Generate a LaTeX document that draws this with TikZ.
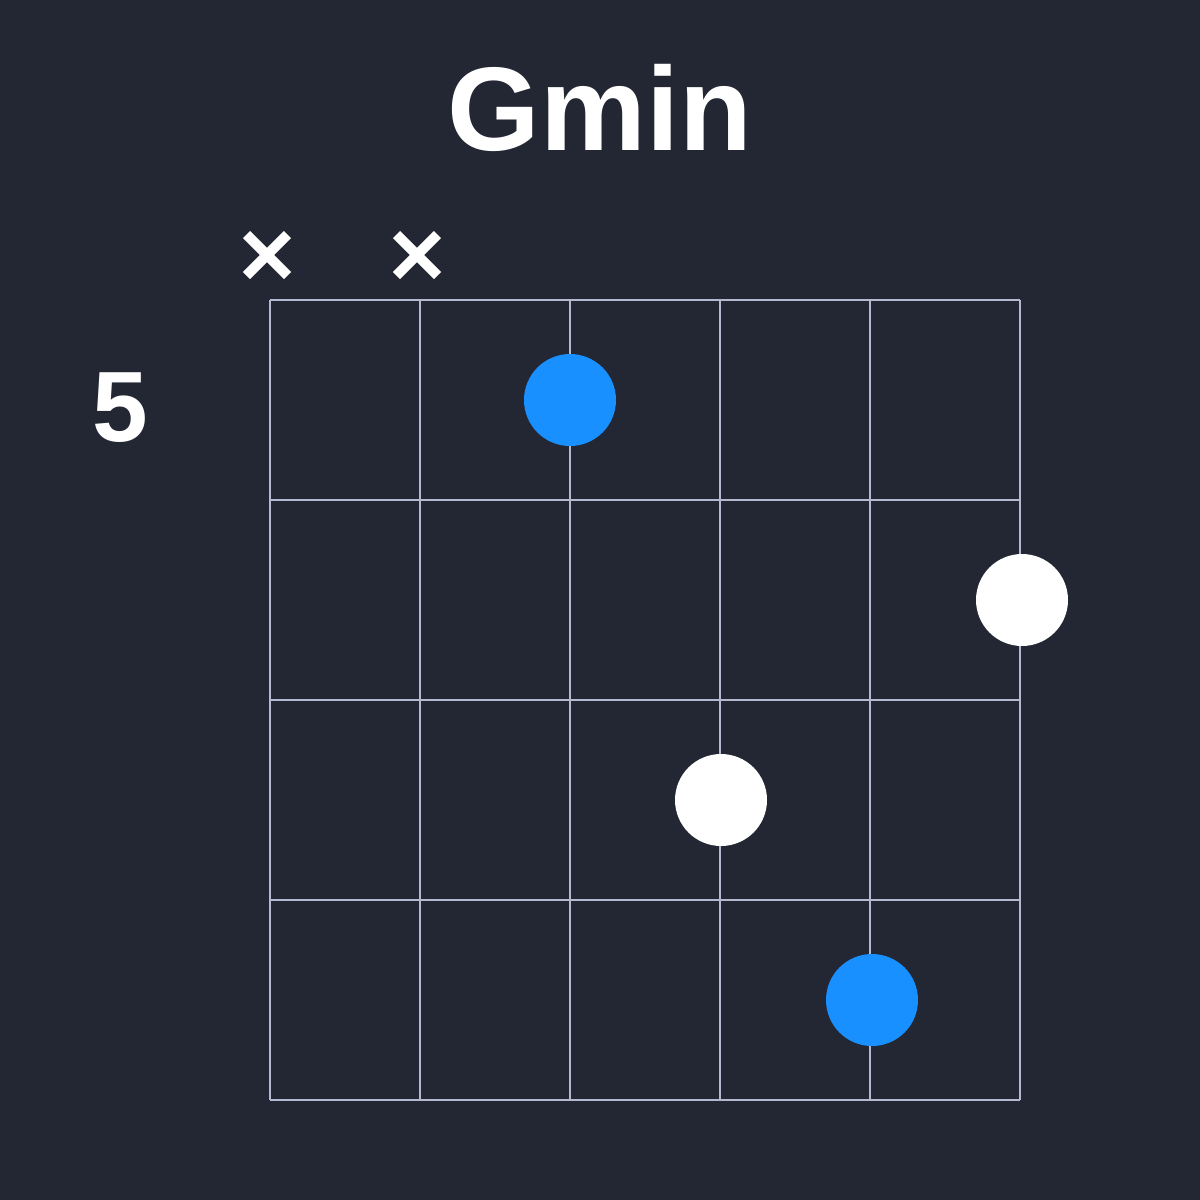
\documentclass[tikz,border=0pt]{standalone}
\usepackage{fontspec}
\setmainfont{Liberation Sans}
\definecolor{bg}{HTML}{232733}
\definecolor{gridc}{HTML}{B4B9D2}
\definecolor{blued}{HTML}{1890FF}
\begin{document}
\begin{tikzpicture}[x=1pt,y=-1pt,
  gridline/.style={draw=gridc,line width=1.8pt},
  bluedot/.style={circle,fill=blued,minimum size=92pt,inner sep=0pt},
  whitedot/.style={circle,fill=white,minimum size=92pt,inner sep=0pt},
  mutemark/.style={draw=white,line width=10pt},
  txt/.style={text=white,font=\bfseries,inner sep=0pt,anchor=base}]
\fill[bg] (0,0) rectangle (1200,1200);
\useasboundingbox (0,0) rectangle (1200,1200);
% grid
\foreach \x in {270,420,570,720,870,1020} \draw[gridline] (\x,300) -- (\x,1100);
\foreach \y in {300,500,700,900,1100} \draw[gridline] (270,\y) -- (1020,\y);
% title
\node[txt,font=\bfseries\fontsize{119}{119}\selectfont] (title) at (600,150) {Gmin};
\node[txt,font=\bfseries\fontsize{100}{100}\selectfont] (fret) at (120,441) {5};
% mute marks
\foreach \cx/\n in {267/m1,417/m2}{
  \coordinate (\n) at (\cx,255);
  \draw[mutemark] ([shift={(-20.5,-20.5)}]\n) -- ([shift={(20.5,20.5)}]\n);
  \draw[mutemark] ([shift={(-20.5,20.5)}]\n) -- ([shift={(20.5,-20.5)}]\n);
}
% dots
\node[bluedot] (d1) at (570,400) {};
\node[whitedot] (d2) at (1022,600) {};
\node[whitedot] (d3) at (721,800) {};
\node[bluedot] (d4) at (872,1000) {};
\end{tikzpicture}
\end{document}
